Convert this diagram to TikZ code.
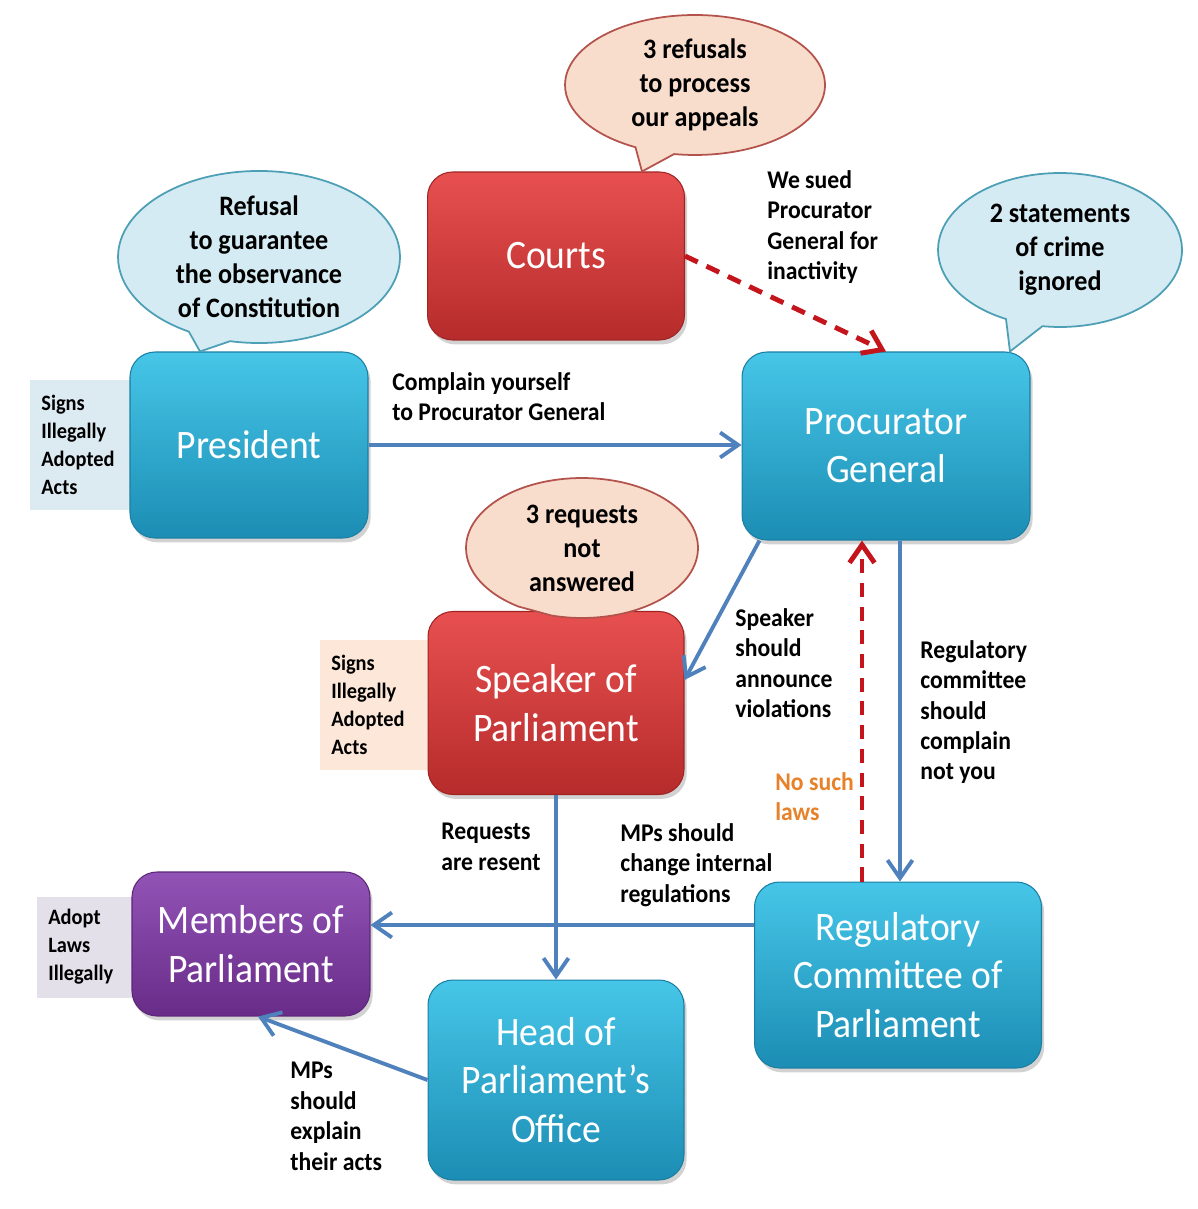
\documentclass[tikz,border=0pt]{standalone}
\usepackage{fontspec}
\setmainfont{Carlito}[FakeStretch=0.93]
\usetikzlibrary{arrows.meta,shapes.callouts,shadows,positioning}

\definecolor{boxTop}{HTML}{46C6E8}
\definecolor{boxBot}{HTML}{1C8DB4}
\definecolor{boxEdge}{HTML}{1A7FA3}
\definecolor{redTop}{HTML}{E85050}
\definecolor{redBot}{HTML}{B62B2B}
\definecolor{redEdge}{HTML}{A02424}
\definecolor{purTop}{HTML}{9253B6}
\definecolor{purBot}{HTML}{682C88}
\definecolor{purEdge}{HTML}{5C2679}
\definecolor{linkBlue}{HTML}{4F81BD}
\definecolor{dashRed}{HTML}{C4151C}
\definecolor{sayPeach}{HTML}{F8DDCC}
\definecolor{sayPeachEdge}{HTML}{B4524C}
\definecolor{sayBlue}{HTML}{D4EBF3}
\definecolor{sayBlueEdge}{HTML}{4C9FB4}
\definecolor{sideBlue}{HTML}{DCEAF1}
\definecolor{sidePeach}{HTML}{FCE7D8}
\definecolor{sideGrey}{HTML}{E3E0E9}
\definecolor{lawsOrange}{HTML}{E8822A}

\newcommand{\boxfont}{\fontsize{23}{27.5}\selectfont}
\newcommand{\lblfont}{\bfseries\fontsize{14.5}{17.3}\selectfont}
\newcommand{\sayfont}{\bfseries\fontsize{16}{19.3}\selectfont}
\newcommand{\sidefont}{\bfseries\fontsize{12.5}{15.9}\selectfont}

\begin{document}
\begin{tikzpicture}[x=0.02cm, y=-0.02cm, >={Straight Barb[length=3.6mm,width=5mm]}]
        \tikzset{
            bluebox/.style={rectangle, rounded corners=0.5cm, top color=boxTop, bottom color=boxBot, draw=boxEdge, line width=0.6pt, text=white, align=center, font=\boxfont, drop shadow={opacity=0.35, shadow xshift=1.5pt, shadow yshift=-2.5pt}},
            redbox/.style={bluebox, top color=redTop, bottom color=redBot, draw=redEdge},
            purplebox/.style={bluebox, top color=purTop, bottom color=purBot, draw=purEdge},
            saybox/.style={ellipse callout, callout pointer arc=18, align=center, font=\sayfont, inner sep=0pt, line width=1pt},
            peachsay/.style={saybox, fill=sayPeach, draw=sayPeachEdge},
            bluesay/.style={saybox, fill=sayBlue, draw=sayBlueEdge},
            sidenote/.style={anchor=west, rectangle, align=left, font=\sidefont, inner xsep=0.22cm},
            note/.style={anchor=north west, align=left, font=\lblfont, inner sep=0pt},
            link/.style={draw=linkBlue, ->, line width=2.2pt},
            dashlink/.style={draw=dashRed, ->, line width=2.8pt, dash pattern=on 8pt off 5.5pt}
        }

        % page
        \fill[white] (0,0) rectangle (1197,1209);
        \useasboundingbox (0,0) rectangle (1197,1209);

        % Side notes (behind the boxes)
        \node[sidenote, fill=sideBlue, minimum height=2.6cm, text width=1.7cm] (presNote) at (30,445) {Signs\\Illegally\\Adopted\\Acts};
        \node[sidenote, fill=sidePeach, minimum height=2.6cm, text width=1.8cm] (speakerNote) at (320,705) {Signs\\Illegally\\Adopted\\Acts};
        \node[sidenote, fill=sideGrey, minimum height=2.02cm, text width=1.6cm] (mpsNote) at (37,947) {Adopt\\Laws\\Illegally};

        % Institutions
        \node[redbox, minimum width=5.14cm, minimum height=3.36cm] (courts) at (556,256) {Courts};
        \node[bluebox, minimum width=4.76cm, minimum height=3.72cm] (pres) at (249,445) {President};
        \node[bluebox, minimum width=5.76cm, minimum height=3.76cm] (pg) at (886,446) {Procurator\\General};
        \node[redbox, minimum width=5.12cm, minimum height=3.66cm] (speaker) at (556,703) {Speaker of\\Parliament};
        \node[bluebox, minimum width=5.74cm, minimum height=3.72cm] (reg) at (898,975) {Regulatory\\Committee of\\Parliament};
        \node[purplebox, minimum width=4.76cm, minimum height=2.88cm] (mps) at (251,944) {Members of\\Parliament};
        \node[bluebox, minimum width=5.12cm, minimum height=4.0cm] (head) at (556,1080) {Head of\\Parliament's\\Office};

        % Speech bubbles
        \node[peachsay, minimum width=5.2cm, minimum height=2.8cm, callout absolute pointer={([xshift=1.72cm]courts.north)}] (courtsSay) at (695,85) {3 refusals\\to process\\our appeals};
        \node[bluesay, minimum width=5.64cm, minimum height=3.1cm, callout absolute pointer={([xshift=-0.98cm]pres.north)}] (presSay) at (259,257) {Refusal\\to guarantee\\the observance\\of Constitution};
        \node[bluesay, minimum width=4.88cm, minimum height=3.08cm, callout absolute pointer={([xshift=2.48cm]pg.north)}] (pgSay) at (1060,250) {2 statements\\of crime\\ignored};
        \node[peachsay, minimum width=4.64cm, minimum height=2.8cm, callout absolute pointer={([xshift=-0.42cm]speaker.north)}] (speakerSay) at (582,548) {3 requests\\not\\answered};

        % Connector labels
        \node[note] (sued) at (767,170) {We sued\\Procurator\\General for\\inactivity};
        \node[note] (complain) at (392,372) {Complain yourself\\to Procurator General};
        \node[note] (announce) at (735,608) {Speaker\\should\\announce\\violations};
        \node[note] (regShould) at (920,640) {Regulatory\\committee\\should\\complain\\not you};
        \node[note, text=lawsOrange] (noSuch) at (775,772) {No such\\laws};
        \node[note] (resent) at (441,823) {Requests\\are resent};
        \node[note] (change) at (620,823) {MPs should\\change internal\\regulations};
        \node[note] (explain) at (290,1062) {MPs\\should\\explain\\their acts};

        % Connectors
        \draw[link] (pres.east) -- (pres.east -| pg.west);
        \draw[dashlink] (courts.east) -- (pg.north);
        \draw[link] ([xshift=0.36cm]pg.south west) -- ([yshift=0.46cm]speaker.east);
        \draw[link] ([xshift=0.28cm]pg.south) -- ([xshift=0.28cm]pg.south |- reg.north);
        \coordinate (noLaws) at ([xshift=-0.72cm]reg.north);
        \draw[dashlink] (noLaws) -- (noLaws |- pg.south);
        \draw[link] (speaker.south) -- (head.north);
        \coordinate (intoMps) at ([yshift=0.38cm]mps.east);
        \draw[link] (intoMps -| reg.west) -- (intoMps);
        \draw[link] (head.west) -- ([xshift=0.14cm]mps.south);

\end{tikzpicture}
\end{document}
